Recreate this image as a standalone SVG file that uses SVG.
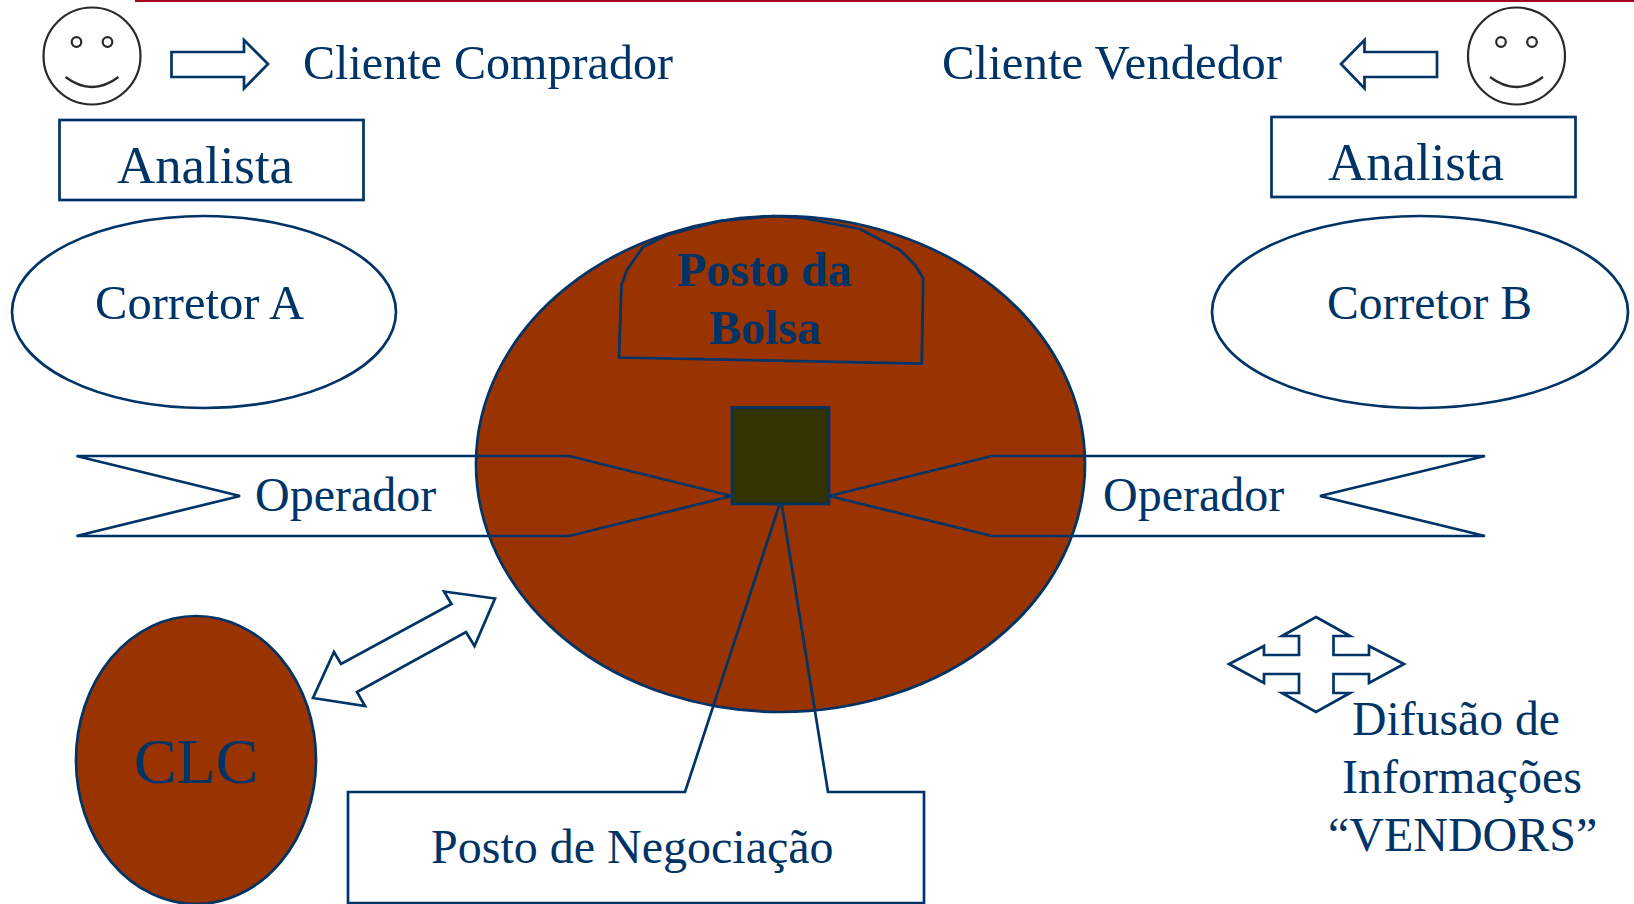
<svg xmlns="http://www.w3.org/2000/svg" width="1634" height="904" viewBox="0 0 1634 904">
<style>
text{font-family:"Liberation Serif","Times New Roman",serif;font-size:48px;fill:#003366}
.s{fill:none;stroke:#003366;stroke-width:2.700;stroke-linejoin:miter}
.b{fill:#993300;stroke:#003366;stroke-width:2.700}
.f{fill:none;stroke:#292929;stroke-width:2.200}
.an{font-size:53px}
</style>
<defs>
<g id="face">
<circle class="f" cx="0" cy="0" r="48.500"/>
<circle class="f" cx="-15.500" cy="-14" r="4.800"/>
<circle class="f" cx="15.500" cy="-14" r="4.800"/>
<path class="f" d="M-26.500 21Q0 41 26.500 21"/>
</g>
</defs>
<rect width="1634" height="904" fill="#fff"/>
<rect x="135" y="0" width="1499" height="2" fill="#A50021"/>
<g id="cliente-comprador">
<use href="#face" x="92" y="56"/>
<path class="s" d="M171.500 52H244V40L268 64L244 88.500V77H171.500Z"/>
<text x="303" y="79" textLength="370" lengthAdjust="spacingAndGlyphs">Cliente Comprador</text>
</g>
<g id="cliente-vendedor">
<use href="#face" x="1516.500" y="56"/>
<path class="s" d="M1437 52H1364.500V40L1341 64L1364.500 88.500V77H1437Z"/>
<text x="942" y="79" textLength="340" lengthAdjust="spacingAndGlyphs">Cliente Vendedor</text>
</g>
<g id="analista-a">
<rect class="s" x="59.500" y="120" width="304" height="80"/>
<text class="an" x="117" y="183" textLength="176" lengthAdjust="spacingAndGlyphs">Analista</text>
</g>
<g id="analista-b">
<rect class="s" x="1271.500" y="117" width="304" height="80"/>
<text class="an" x="1328" y="180" textLength="176" lengthAdjust="spacingAndGlyphs">Analista</text>
</g>
<g id="corretor-a">
<ellipse class="s" cx="204" cy="312" rx="192" ry="96"/>
<text x="95" y="319" textLength="209" lengthAdjust="spacingAndGlyphs">Corretor A</text>
</g>
<g id="corretor-b">
<ellipse class="s" cx="1420" cy="312" rx="208" ry="96"/>
<text x="1327" y="319" textLength="205" lengthAdjust="spacingAndGlyphs">Corretor B</text>
</g>
<g id="bolsa">
<ellipse class="b" cx="780.500" cy="464" rx="304.500" ry="248"/>
<path class="s" d="M619 357.500L621.500 285L627 270L643 247L667 235L720 221L773 216L803 218L860 229L900 250L915 265L923 278L923 293L921.700 363.500Z"/>
<text x="677" y="286" font-weight="bold">Posto da</text>
<text x="709" y="344" font-weight="bold">Bolsa</text>
</g>
<g id="connectors">
<path class="s" d="M76.500 456H569L732 496L569 536H76.500L240 496Z"/>
<path class="s" d="M1485 456H992L829 496L992 536H1485L1320 496Z"/>
<path class="s" d="M348 903V792H685L781 500L828 792H924V903Z"/>
</g>
<g id="posto-negociacao">
<rect x="732" y="407.500" width="97" height="96.500" fill="#333300" stroke="#003366" stroke-width="2.700"/>
<text x="431" y="863">Posto de Negociação</text>
</g>
<g id="operador-a"><text x="255" y="511">Operador</text></g>
<g id="operador-b"><text x="1103" y="511">Operador</text></g>
<g id="clc">
<ellipse class="b" cx="196" cy="760" rx="120" ry="144"/>
<text x="134" y="783" style="font-size:64px">CLC</text>
</g>
<g id="seta-clc">
<path class="s" d="M444 591.500L495 598.500L474.500 646L466 632L357 692L365 706L313 698L334 652L341 664L451.500 604Z"/>
</g>
<g id="vendors">
<path class="s" d="M1316 617L1350 636H1333.500V655H1369V646L1404 664L1369 683V674H1333.500V693H1350L1316 712L1282 693H1299V674H1264V683L1229 664L1264 646V655H1299V636H1282Z"/>
<text x="1352" y="735" textLength="208" lengthAdjust="spacingAndGlyphs">Difusão de</text>
<text x="1342" y="793">Informações</text>
<text x="1328" y="851">“VENDORS”</text>
</g>
</svg>
